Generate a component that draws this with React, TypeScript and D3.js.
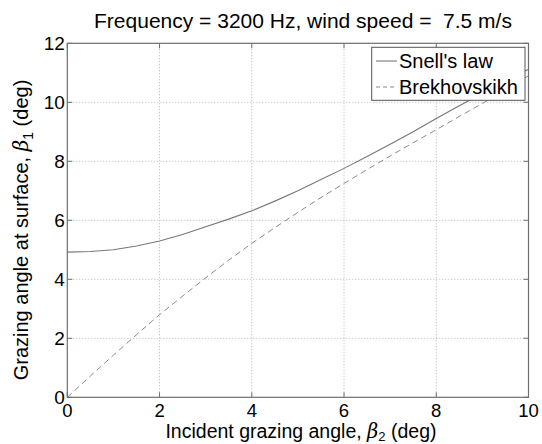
import React from "react";
import * as d3 from "d3";

const xValues = [0, 0.5, 1, 1.5, 2, 2.5, 3, 3.5, 4, 4.5, 5, 5.5, 6, 6.5, 7, 7.5, 8, 8.5, 9, 9.5, 10];
const snellValues = [4.92, 4.94, 5.0, 5.13, 5.3, 5.52, 5.78, 6.04, 6.32, 6.65, 7.0, 7.38, 7.76, 8.16, 8.58, 9.0, 9.45, 9.88, 10.3, 10.72, 11.12];
const brekhValues = [0, 0.72, 1.43, 2.12, 2.8, 3.43, 4.05, 4.65, 5.22, 5.75, 6.27, 6.77, 7.25, 7.72, 8.18, 8.63, 9.07, 9.52, 9.96, 10.42, 10.9];
const xTicks = [0, 2, 4, 6, 8, 10];
const yTicks = [0, 2, 4, 6, 8, 10, 12];
const seriesNames = ["Snell's law", "Brekhovskikh"];

const W = 542, H = 444;
const m = { left: 67.3, right: 528.5, top: 43.3, bottom: 397.3 };
const FONT = "Liberation Sans, Arial, sans-serif";

export default function App() {
  const x = d3.scaleLinear().domain([0, 10]).range([m.left, m.right]);
  const y = d3.scaleLinear().domain([0, 12]).range([m.bottom, m.top]);
  const line = d3.line<number>().x((_, i) => x(xValues[i])).y((d) => y(d));
  const axisCol = "#6e6e6e";
  const gridCol = "#b4b4b4";
  return (
    <svg width={W} height={H} style={{ position: "absolute", left: 0, top: 0, background: "#fff" }} fontFamily={FONT}>
      <rect x={0} y={0} width={W} height={H} fill="#fff" />
      {xTicks.slice(1, -1).map((t) => (
        <line key={"gx" + t} x1={x(t)} x2={x(t)} y1={m.top} y2={m.bottom} stroke={gridCol} strokeWidth={1} strokeDasharray="1,2" />
      ))}
      {yTicks.slice(1, -1).map((t) => (
        <line key={"gy" + t} x1={m.left} x2={m.right} y1={y(t)} y2={y(t)} stroke={gridCol} strokeWidth={1} strokeDasharray="1,2" />
      ))}
      <path d={line(snellValues) || ""} fill="none" stroke="#777" strokeWidth={1.1} />
      <path d={line(brekhValues) || ""} fill="none" stroke="#8a8a8a" strokeWidth={1} strokeDasharray="6,4" />
      {xTicks.map((t) => (
        <g key={"tx" + t}>
          <line x1={x(t)} x2={x(t)} y1={m.bottom} y2={m.bottom - 5} stroke={axisCol} />
          <line x1={x(t)} x2={x(t)} y1={m.top} y2={m.top + 5} stroke={axisCol} />
          <text x={x(t)} y={m.bottom + 19.5} fontSize={18.5} textAnchor="middle" fill="#000">{t}</text>
        </g>
      ))}
      {yTicks.map((t) => (
        <g key={"ty" + t}>
          <line x1={m.left} x2={m.left + 5} y1={y(t)} y2={y(t)} stroke={axisCol} />
          <line x1={m.right} x2={m.right - 5} y1={y(t)} y2={y(t)} stroke={axisCol} />
          <text x={m.left - 2.5} y={y(t) + 6.5} fontSize={19} textAnchor="end" fill="#000">{t}</text>
        </g>
      ))}
      <rect x={m.left} y={m.top} width={m.right - m.left} height={m.bottom - m.top} fill="none" stroke={axisCol} strokeWidth={1.2} />
      <g>
        <rect x={371.7} y={47.3} width={153.3} height={53} fill="#fff" stroke="#555" strokeWidth={1} />
        <line x1={376} x2={397} y1={61} y2={61} stroke="#777" strokeWidth={1.1} />
        <line x1={376} x2={397} y1={87} y2={87} stroke="#8a8a8a" strokeDasharray="4,3" />
        <text x={399} y={68} fontSize={20} fill="#000">{seriesNames[0]}</text>
        <text x={399} y={94} fontSize={20} fill="#000">{seriesNames[1]}</text>
      </g>
      <text x={303} y={28} fontSize={21} textAnchor="middle" fill="#000" style={{ whiteSpace: "pre" }}>
        Frequency = 3200 Hz, wind speed =  7.5 m/s
      </text>
      <text x={301} y={438} fontSize={19.5} textAnchor="middle" fill="#000">
        Incident grazing angle,{" "}
        <tspan fontFamily="DejaVu Serif, serif" fontStyle="italic">β</tspan>
        <tspan fontSize={13} dy={2.5}>2</tspan>
        <tspan dy={-2.5}> (deg)</tspan>
      </text>
      <text transform={`translate(28,230) rotate(-90)`} fontSize={20} textAnchor="middle" fill="#000">
        Grazing angle at surface,{" "}
        <tspan fontFamily="DejaVu Serif, serif" fontStyle="italic">β</tspan>
        <tspan fontSize={14} dy={5}>1</tspan>
        <tspan dy={-5}> (deg)</tspan>
      </text>
    </svg>
  );
}
